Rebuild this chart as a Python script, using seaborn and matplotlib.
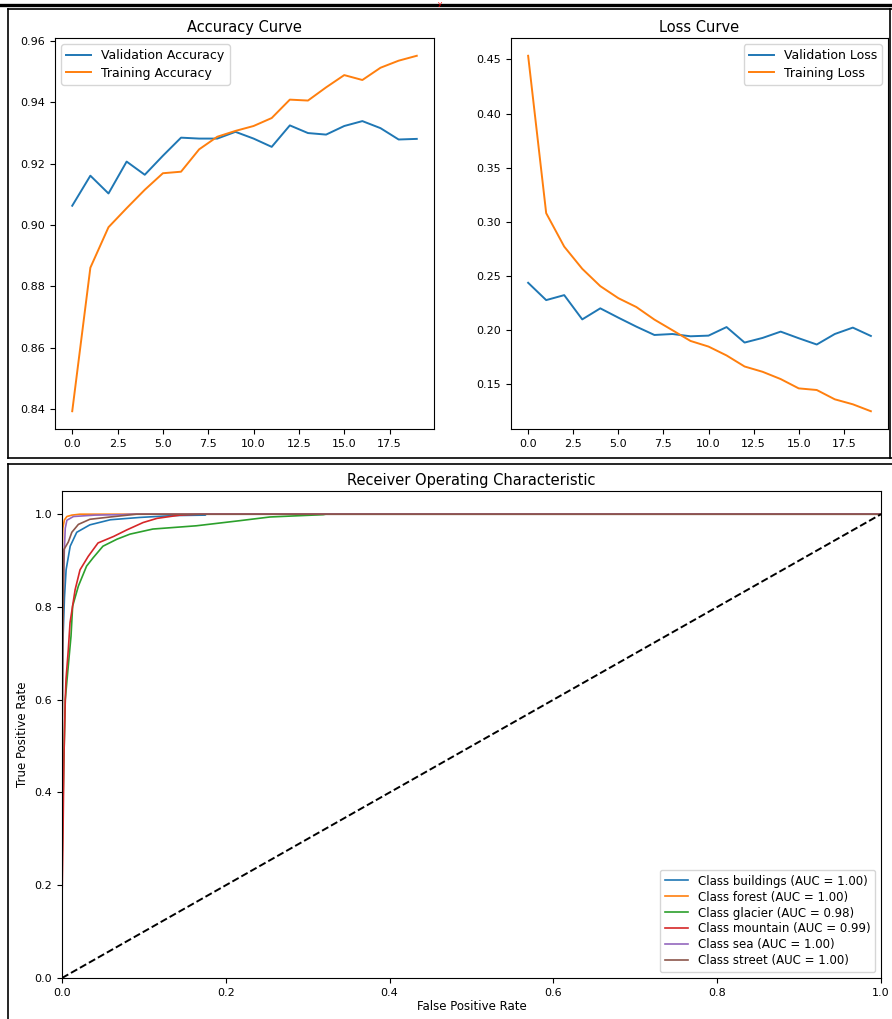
import numpy as np
import pandas as pd
import seaborn as sns
import matplotlib.pyplot as plt
from matplotlib.lines import Line2D

# Training history
epochs = list(range(20))
val_acc = [0.9063, 0.9161, 0.9103, 0.9207, 0.9164, 0.9226, 0.9285, 0.9282, 0.9282, 0.9304,
           0.9282, 0.9255, 0.9325, 0.9300, 0.9295, 0.9323, 0.9339, 0.9316, 0.9279, 0.9281]
train_acc = [0.8393, 0.8861, 0.8993, 0.9055, 0.9115, 0.9169, 0.9174, 0.9247, 0.9288, 0.9307,
             0.9323, 0.9349, 0.9409, 0.9406, 0.9449, 0.9489, 0.9473, 0.9513, 0.9536, 0.9552]
val_loss = [0.2438, 0.2278, 0.2324, 0.2100, 0.2202, 0.2116, 0.2033, 0.1956, 0.1965, 0.1944,
            0.1950, 0.2029, 0.1886, 0.1929, 0.1987, 0.1926, 0.1868, 0.1965, 0.2024, 0.1947]
train_loss = [0.4534, 0.3081, 0.2772, 0.2567, 0.2407, 0.2296, 0.2214, 0.2098, 0.2000, 0.1901,
              0.1849, 0.1767, 0.1665, 0.1616, 0.1549, 0.1463, 0.1448, 0.1362, 0.1316, 0.1252]

# ROC curves per class
classes = ['buildings', 'forest', 'glacier', 'mountain', 'sea', 'street']
auc_vals = [1.00, 1.00, 0.98, 0.99, 1.00, 1.00]
fpr_buildings = [0, 0, 0.001, 0.003, 0.005, 0.010, 0.018, 0.034, 0.059, 0.095, 0.136, 0.175, 0.176, 1.0]
tpr_buildings = [0, 0.55, 0.72, 0.82, 0.88, 0.931, 0.961, 0.977, 0.988, 0.993, 0.997, 0.998, 1.0, 1.0]
fpr_forest = [0, 0, 0.001, 0.003, 0.006, 0.012, 0.022, 1.0]
tpr_forest = [0, 0.90, 0.97, 0.988, 0.995, 0.998, 1.0, 1.0]
fpr_glacier = [0, 0, 0.002, 0.004, 0.007, 0.011, 0.013, 0.020, 0.030, 0.038, 0.050, 0.067,
               0.083, 0.111, 0.164, 0.217, 0.254, 0.319, 0.322, 1.0]
tpr_glacier = [0, 0.25, 0.45, 0.60, 0.66, 0.737, 0.802, 0.845, 0.888, 0.906, 0.931, 0.946,
               0.957, 0.968, 0.975, 0.986, 0.994, 0.999, 1.0, 1.0]
fpr_mountain = [0, 0, 0.001, 0.0024, 0.004, 0.0049, 0.0077, 0.0098, 0.016, 0.022, 0.032, 0.044,
                0.063, 0.079, 0.099, 0.116, 0.144, 0.168, 1.0]
tpr_mountain = [0, 0.168, 0.276, 0.478, 0.60, 0.644, 0.708, 0.766, 0.837, 0.880, 0.909, 0.938,
                0.952, 0.966, 0.982, 0.991, 0.998, 1.0, 1.0]
fpr_sea = [0, 0, 0.001, 0.002, 0.003, 0.004, 0.006, 0.014, 0.040, 0.075, 0.083, 1.0]
tpr_sea = [0, 0.70, 0.80, 0.874, 0.93, 0.97, 0.987, 0.995, 0.998, 0.999, 1.0, 1.0]
fpr_street = [0, 0, 0.001, 0.0024, 0.0077, 0.012, 0.020, 0.034, 0.059, 0.091, 1.0]
tpr_street = [0, 0.32, 0.715, 0.924, 0.94, 0.961, 0.978, 0.989, 0.994, 1.0, 1.0]

roc_fpr = [fpr_buildings, fpr_forest, fpr_glacier, fpr_mountain, fpr_sea, fpr_street]
roc_tpr = [tpr_buildings, tpr_forest, tpr_glacier, tpr_mountain, tpr_sea, tpr_street]

colors = sns.color_palette('tab10')

W, H = 892, 1019
fig = plt.figure(figsize=(W / 100, H / 100), dpi=100)


def box(l, t, r, b):
    return [l / W, 1 - b / H, (r - l) / W, (b - t) / H]


# Accuracy curve
ax1 = fig.add_axes(box(55, 38, 434, 429))
sns.lineplot(x=epochs, y=val_acc, ax=ax1, color=colors[0], label='Validation Accuracy', lw=1.4)
sns.lineplot(x=epochs, y=train_acc, ax=ax1, color=colors[1], label='Training Accuracy', lw=1.4)
ax1.set_title('Accuracy Curve', fontsize=10.5, pad=4)
ax1.legend(loc='upper left', fontsize=9, labelspacing=0.35)

# Loss curve
ax2 = fig.add_axes(box(511, 38, 888, 429))
sns.lineplot(x=epochs, y=val_loss, ax=ax2, color=colors[0], label='Validation Loss', lw=1.4)
sns.lineplot(x=epochs, y=train_loss, ax=ax2, color=colors[1], label='Training Loss', lw=1.4)
ax2.set_title('Loss Curve', fontsize=10.5, pad=4)
ax2.legend(loc='upper right', fontsize=9, labelspacing=0.35)

for ax in (ax1, ax2):
    ax.tick_params(labelsize=8)

# ROC
ax3 = fig.add_axes(box(62, 491, 881, 978))
for i, c in enumerate(classes):
    sns.lineplot(x=roc_fpr[i], y=roc_tpr[i], ax=ax3, sort=False, estimator=None,
                 color=colors[i], lw=1.2, label=f'Class {c} (AUC = {auc_vals[i]:.2f})')
ax3.plot([0, 1], [0, 1], 'k--', lw=1.4)
ax3.set_xlim(0, 1)
ax3.set_ylim(0, 1.05)
ax3.set_title('Receiver Operating Characteristic', fontsize=10.5, pad=4)
ax3.set_xlabel('False Positive Rate', fontsize=8.5, labelpad=2)
ax3.set_ylabel('True Positive Rate', fontsize=8.5)
ax3.tick_params(labelsize=8)
ax3.legend(loc='lower right', fontsize=8.5, labelspacing=0.25)


# screenshot frame lines
def hline(y, x0, x1, lw=1.2):
    fig.add_artist(Line2D([x0 / W, x1 / W], [1 - y / H, 1 - y / H], transform=fig.transFigure, color='k', lw=lw))


def vline(x, y0, y1, lw=1.2):
    fig.add_artist(Line2D([x / W, x / W], [1 - y0 / H, 1 - y1 / H], transform=fig.transFigure, color='k', lw=lw))


hline(5, 0, W, lw=2.4)
hline(9, 8, W)
hline(458, 8, W)
vline(8, 9, 458)
vline(890, 9, 458)
hline(464, 8, W)
vline(8, 464, H)
fig.text(440 / W, 1 - 1 / H, 'y', color='red', fontsize=5, ha='center', va='top')

fig.savefig('out.png', dpi=100)
